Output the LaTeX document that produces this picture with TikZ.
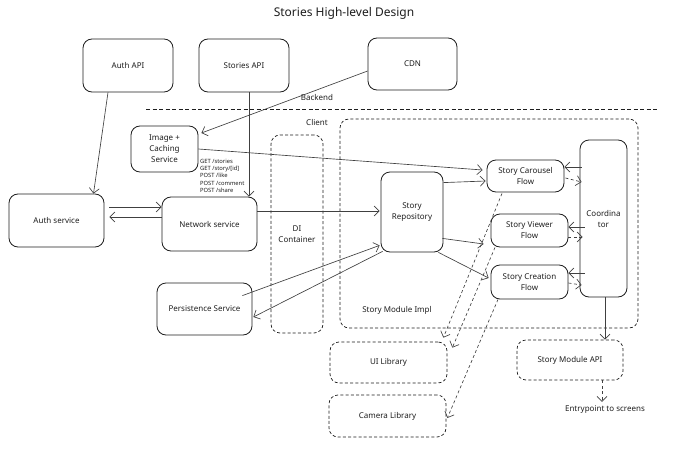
\documentclass[tikz,border=0pt]{standalone}
\usepackage{fontspec}
\setmainfont{Noto Sans}
\usetikzlibrary{arrows.meta,calc}
\definecolor{ink}{HTML}{1E1E1E}
\begin{document}
\begin{tikzpicture}[x=1pt,y=-1pt,
  every node/.style={font=\fontsize{8}{11}\selectfont, text=ink},
  box/.style={draw=ink, line width=0.8pt, rounded corners=9pt, align=center, inner sep=0pt},
  dbox/.style={box, line width=0.7pt, dash pattern=on 3pt off 2.2pt},
  arr/.style={draw=ink!85, line width=0.65pt, -{Straight Barb[length=5pt,width=10pt]}},
  darr/.style={arr, dash pattern=on 3pt off 2.5pt},
  lbl/.style={inner sep=0pt, align=left},
  sepline/.style={draw=ink, line width=0.8pt, dash pattern=on 4pt off 2.5pt}
]
\fill[white] (0,0) rectangle (680,460);
\useasboundingbox (0,0) rectangle (680,460);

% title and region labels
\node[lbl, font=\fontsize{12}{14}\selectfont] (title) at (344,13) {Stories High-level Design};
\node[lbl] (backend) at (317,97) {Backend};
\node[lbl] (client) at (317,122) {Client};
\coordinate (sepL) at (146,109);
\coordinate (sepR) at (658,109);
\path[sepline] (sepL) -- (sepR);

% backend boxes
\node[box, minimum width=90pt, minimum height=53pt] (authapi) at (128,65.5) {Auth API};
\node[box, minimum width=90pt, minimum height=53pt] (storiesapi) at (244,65.5) {Stories API};
\node[box, minimum width=89pt, minimum height=52pt] (cdn) at (412.5,64) {CDN};

% client services
\node[box, minimum width=67pt, minimum height=46pt] (imgcache) at (164.5,149) {Image +\\Caching\\Service};
\node[box, minimum width=95pt, minimum height=53pt] (authsvc) at (56.5,220.5) {Auth service};
\node[box, minimum width=95pt, minimum height=54pt] (netsvc) at (209.5,224) {Network service};
\node[box, minimum width=95pt, minimum height=52pt] (persist) at (204.5,309) {Persistence Service};
\node[lbl, anchor=north west, font=\fontsize{5.8}{7.2}\selectfont] (endpoints) at (200,159)
  {GET /stories\\GET /story/[id]\\POST /like\\POST /comment\\POST /share};

% containers
\node[dbox, minimum width=52pt, minimum height=198pt] (di) at (297,234) {DI\\Container};
\node[dbox, minimum width=298pt, minimum height=209pt] (impl) at (489,223.5) {};
\node[lbl] (impllbl) at (397,310) {Story Module Impl};

% story module
\node[box, minimum width=62pt, minimum height=80pt] (repo) at (412,212) {Story\\Repository};
\node[box, minimum width=77pt, minimum height=32pt] (carousel) at (525.5,176) {Story Carousel\\Flow};
\node[box, minimum width=77pt, minimum height=33pt] (viewer) at (529.5,230.5) {Story Viewer\\Flow};
\node[box, minimum width=77pt, minimum height=34pt] (creation) at (529.5,282) {Story Creation\\Flow};
\node[box, minimum width=47pt, minimum height=157pt] (coord) at (603.5,218.5) {Coordina\\tor};

% libraries and API
\node[dbox, minimum width=117pt, minimum height=41pt] (uilib) at (388.5,362.5) {UI Library};
\node[dbox, minimum width=117pt, minimum height=42pt] (camlib) at (387.5,416) {Camera Library};
\node[dbox, minimum width=106pt, minimum height=40pt] (modapi) at (570,360) {Story Module API};
\node[lbl] (entry) at (605,410) {Entrypoint to screens};

% backend to client
\draw[arr] ([xshift=-20pt]authapi.south) -- ([xshift=37pt]authsvc.north);
\draw[arr] ([xshift=5pt]storiesapi.south) -- ([xshift=39.5pt]netsvc.north);
\draw[arr] ([yshift=-7pt]cdn.west) -- ([shift={(3pt,16pt)}]imgcache.east);
\draw[arr] (imgcache.east) -- ([shift={(-4pt,6pt)}]carousel.west);

% auth <-> network
\draw[arr] ([shift={(5pt,13.5pt)}]authsvc.east) -- ([yshift=17pt]netsvc.west);
\draw[arr] ([yshift=7pt]netsvc.west) -- ([shift={(5pt,3.5pt)}]authsvc.east);

% network / persistence to repository
\draw[arr] ([yshift=13pt]netsvc.east) -- ([shift={(-1pt,1pt)}]repo.west);
\draw[arr] ([shift={(-10pt,-13pt)}]persist.north east) -- ([shift={(-1pt,7pt)}]repo.south west);
\draw[arr] ([shift={(2pt,1pt)}]repo.south west) -- ([shift={(1pt,-8pt)}]persist.east);

% repository to flows
\draw[arr] ([yshift=-11pt]repo.north east) -- ([shift={(-1pt,-5pt)}]carousel.west);
\draw[arr] ([shift={(-1pt,14pt)}]repo.south east) -- ([shift={(-7pt,-13.5pt)}]viewer.west);
\draw[arr] ([xshift=-5pt]repo.south east) -- ([shift={(-2pt,4pt)}]creation.west);

% coordinator <-> flows
\coordinate (c1) at ([yshift=9pt]carousel.east);
\coordinate (c2) at ([shift={(1pt,-2pt)}]carousel.east);
\coordinate (c3) at ([yshift=3.5pt]viewer.east);
\coordinate (c4) at ([yshift=-6.5pt]viewer.east);
\coordinate (c5) at ([yshift=9pt]creation.east);
\coordinate (c6) at ([yshift=-1pt]creation.east);
\draw[arr] ([xshift=2pt]coord.west |- c1) -- (c1);
\draw[darr] (c2) -- ([shift={(2pt,-4pt)}]coord.west |- c2);
\draw[arr] ([xshift=5pt]coord.west |- c3) -- (c3);
\draw[darr] (c4) -- ([xshift=3pt]coord.west |- c4);
\draw[arr] ([xshift=5pt]coord.west |- c5) -- (c5);
\draw[darr] (c6) -- ([shift={(2pt,-2pt)}]coord.west |- c6);

% coordinator to API, API to screens
\draw[arr] ([xshift=1.5pt]coord.south) -- ([xshift=1.5pt]coord.south |- modapi.north);
\draw[darr] ([xshift=-3pt]entry.north |- modapi.south) -- ([shift={(-3pt,4pt)}]entry.north);

% flows to libraries
\draw[darr] ([shift={(-23.5pt,-1pt)}]carousel.south) -- ([shift={(-4pt,4pt)}]uilib.north east);
\draw[darr] ([xshift=-34.5pt]viewer.south) -- ([shift={(5pt,-6pt)}]uilib.north east);
\draw[darr] ([xshift=-31.5pt]creation.south) -- ([shift={(1pt,-2pt)}]camlib.east);
\end{tikzpicture}
\end{document}
